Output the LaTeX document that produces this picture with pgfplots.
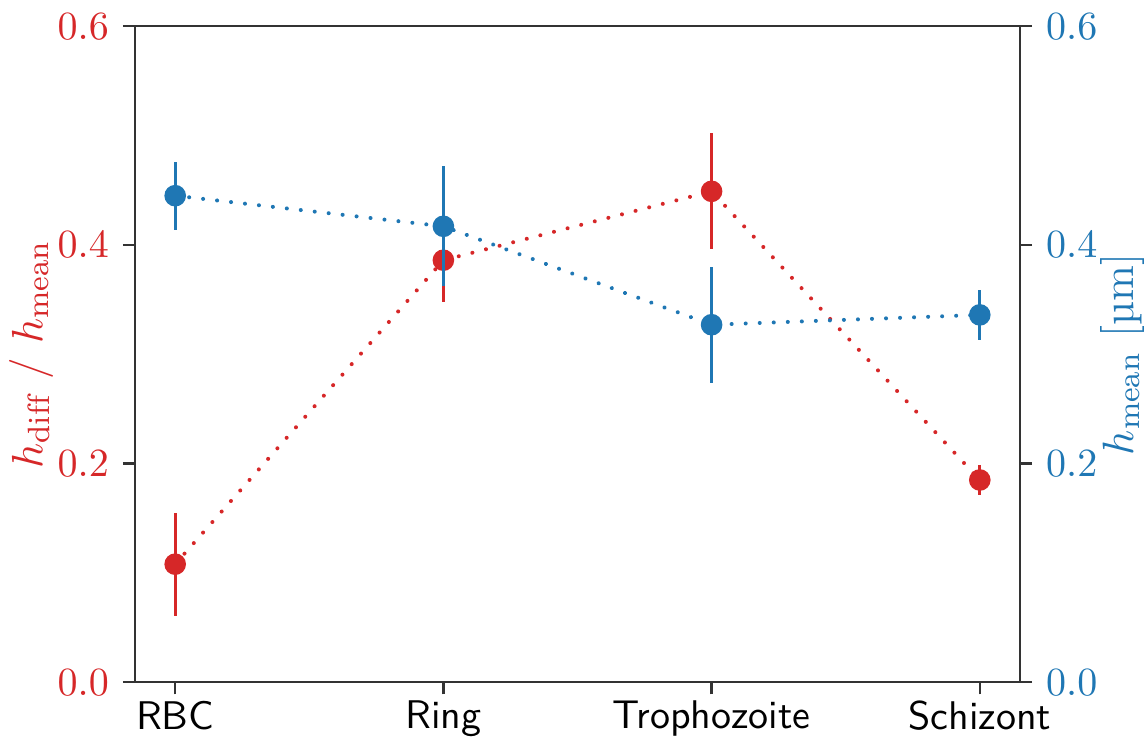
\documentclass[border=0pt]{standalone}
\usepackage{fontspec}
\usepackage{pgfplots}
\pgfplotsset{compat=1.18}
\definecolor{tred}{HTML}{D62728}
\definecolor{tblue}{HTML}{1F77B4}
\begin{document}
\begin{tikzpicture}
\pgfplotsset{
  common/.style={
    width=221.25pt, height=164pt, scale only axis,
    xmin=-0.15, xmax=3.15, ymin=0, ymax=0.6,
    ytick={0,0.2,0.4,0.6},
    yticklabel style={/pgf/number format/fixed,/pgf/number format/fixed zerofill,/pgf/number format/precision=1},
    tick align=outside, major tick length=3pt,
    axis line style={black!80, line width=0.6pt},
    every tick/.style={black!80, line width=0.6pt},
    clip=false,
  },
  dotline/.style={line width=1pt, dash pattern=on 0.01pt off 3.5pt, line cap=round},
}
\begin{axis}[common,
  xtick={0,1,2,3},
  xticklabels={RBC,Ring,Trophozoite,Schizont},
  xticklabel style={font=\sffamily, yshift=1.8pt},
  xtick pos=bottom,
  ytick pos=left,
  yticklabel style={text=tred},
  ylabel={$h_{\mathrm{diff}}$ / $h_{\mathrm{mean}}$},
  ylabel style={text=tred, font=\fontsize{11}{13}\selectfont, inner sep=0pt, at={(rel axis cs:-0.117,0.5)}, anchor=center},
]
\path (rel axis cs:-0.1525,-0.0838) rectangle (rel axis cs:1.1412,1.0335);
\addplot[tred, dotline, forget plot] coordinates {(0,0.108) (1,0.386) (2,0.449) (3,0.185)};
\addplot[tred, only marks, mark=*, mark size=2.5pt, mark options={fill=tred, draw=tred},
  error bars/.cd, y dir=both, y explicit, error bar style={line width=0.8pt, tred}, error mark=none]
  coordinates {(0,0.108) +- (0,0.047) (1,0.386) +- (0,0.038) (2,0.449) +- (0,0.053) (3,0.185) +- (0,0.014)};
\end{axis}
\begin{axis}[common,
  axis x line=none,
  axis y line*=right,
  ytick pos=right,
  yticklabel style={text=tblue},
  ylabel={$h_{\mathrm{mean}}$ [µm]},
  ylabel style={text=tblue, font=\fontsize{11}{13}\selectfont, inner sep=0pt, at={(rel axis cs:1.1153,0.5)}, anchor=center},
]
\addplot[tblue, dotline, forget plot] coordinates {(0,0.445) (1,0.417) (2,0.327) (3,0.336)};
\addplot[tblue, only marks, mark=*, mark size=2.5pt, mark options={fill=tblue, draw=tblue},
  error bars/.cd, y dir=both, y explicit, error bar style={line width=0.8pt, tblue}, error mark=none]
  coordinates {(0,0.445) +- (0,0.031) (1,0.417) +- (0,0.055) (2,0.327) +- (0,0.053) (3,0.336) +- (0,0.023)};
\end{axis}
\end{tikzpicture}
\end{document}
